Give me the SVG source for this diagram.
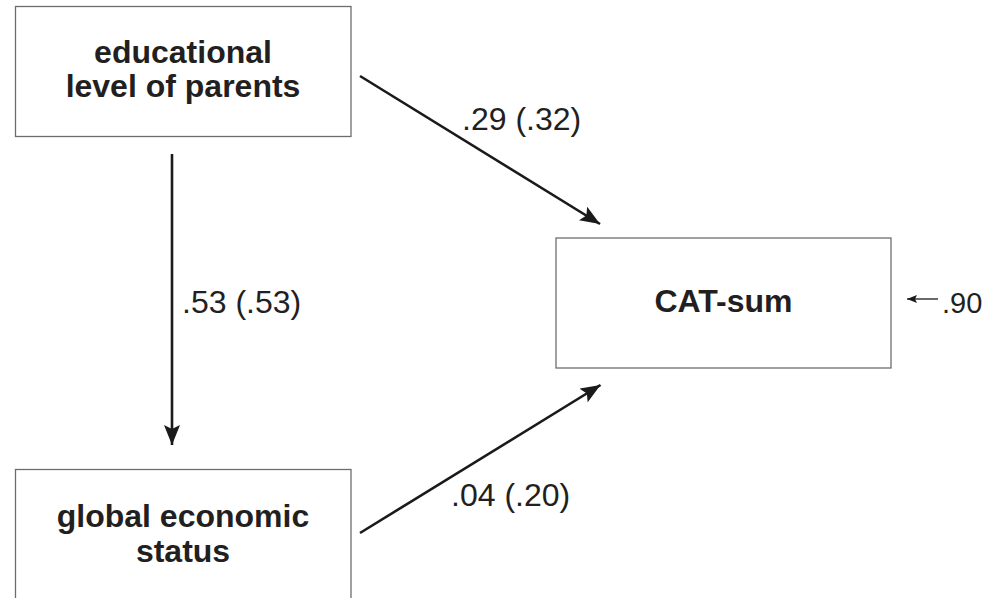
<svg xmlns="http://www.w3.org/2000/svg" width="986" height="598" viewBox="0 0 986 598">
<style>
.box{fill:#fff;stroke:#6d6d6d;stroke-width:1.3}
.lbl{font-family:"Liberation Sans",Arial,sans-serif;font-weight:bold;font-size:32px;fill:#231f20;text-anchor:middle}
.num{font-family:"Liberation Sans",Arial,sans-serif;font-size:32px;fill:#231f20}
.edge{stroke:#1a1a1a;stroke-width:2.6;fill:none}
.thin{stroke:#1a1a1a;stroke-width:1.3;fill:none}
</style>
<defs>
<marker id="ah" viewBox="0 0 20 16" refX="20" refY="8" markerWidth="20" markerHeight="16" markerUnits="userSpaceOnUse" orient="auto">
<path d="M0,0 L20,8 L0,16 L4,8 Z" fill="#1a1a1a"/>
</marker>
<marker id="ahs" viewBox="0 0 10 8" refX="0" refY="4" markerWidth="10" markerHeight="8" markerUnits="userSpaceOnUse" orient="auto">
<path d="M10,0 L0,4 L10,8 L8,4 Z" fill="#1a1a1a"/>
</marker>
</defs>
<rect width="986" height="598" fill="#fff"/>
<g id="edu">
<rect class="box" x="15.5" y="6.5" width="335.5" height="130"/>
<text class="lbl" x="183" y="63">educational</text>
<text class="lbl" x="183" y="97">level of parents</text>
</g>
<g id="ges">
<rect class="box" x="15.5" y="469.5" width="335.5" height="140"/>
<text class="lbl" x="183" y="527">global economic</text>
<text class="lbl" x="183" y="562">status</text>
</g>
<g id="cat">
<rect class="box" x="556" y="238" width="335" height="130"/>
<text class="lbl" x="723.5" y="312">CAT-sum</text>
</g>
<g id="connectors">
<line class="edge" x1="172" y1="154" x2="172" y2="445" marker-end="url(#ah)"/>
<line class="edge" x1="360" y1="76" x2="600" y2="224" marker-end="url(#ah)"/>
<line class="edge" x1="360" y1="533" x2="600.5" y2="385" marker-end="url(#ah)"/>
<line class="thin" x1="907" y1="299" x2="938" y2="299" marker-start="url(#ahs)"/>
</g>
<g id="labels">
<text class="num" x="182" y="313">.53 (.53)</text>
<text class="num" x="462" y="130">.29 (.32)</text>
<text class="num" x="451" y="506">.04 (.20)</text>
<text class="num" x="942" y="313" style="font-size:29px">.90</text>
</g>
</svg>
